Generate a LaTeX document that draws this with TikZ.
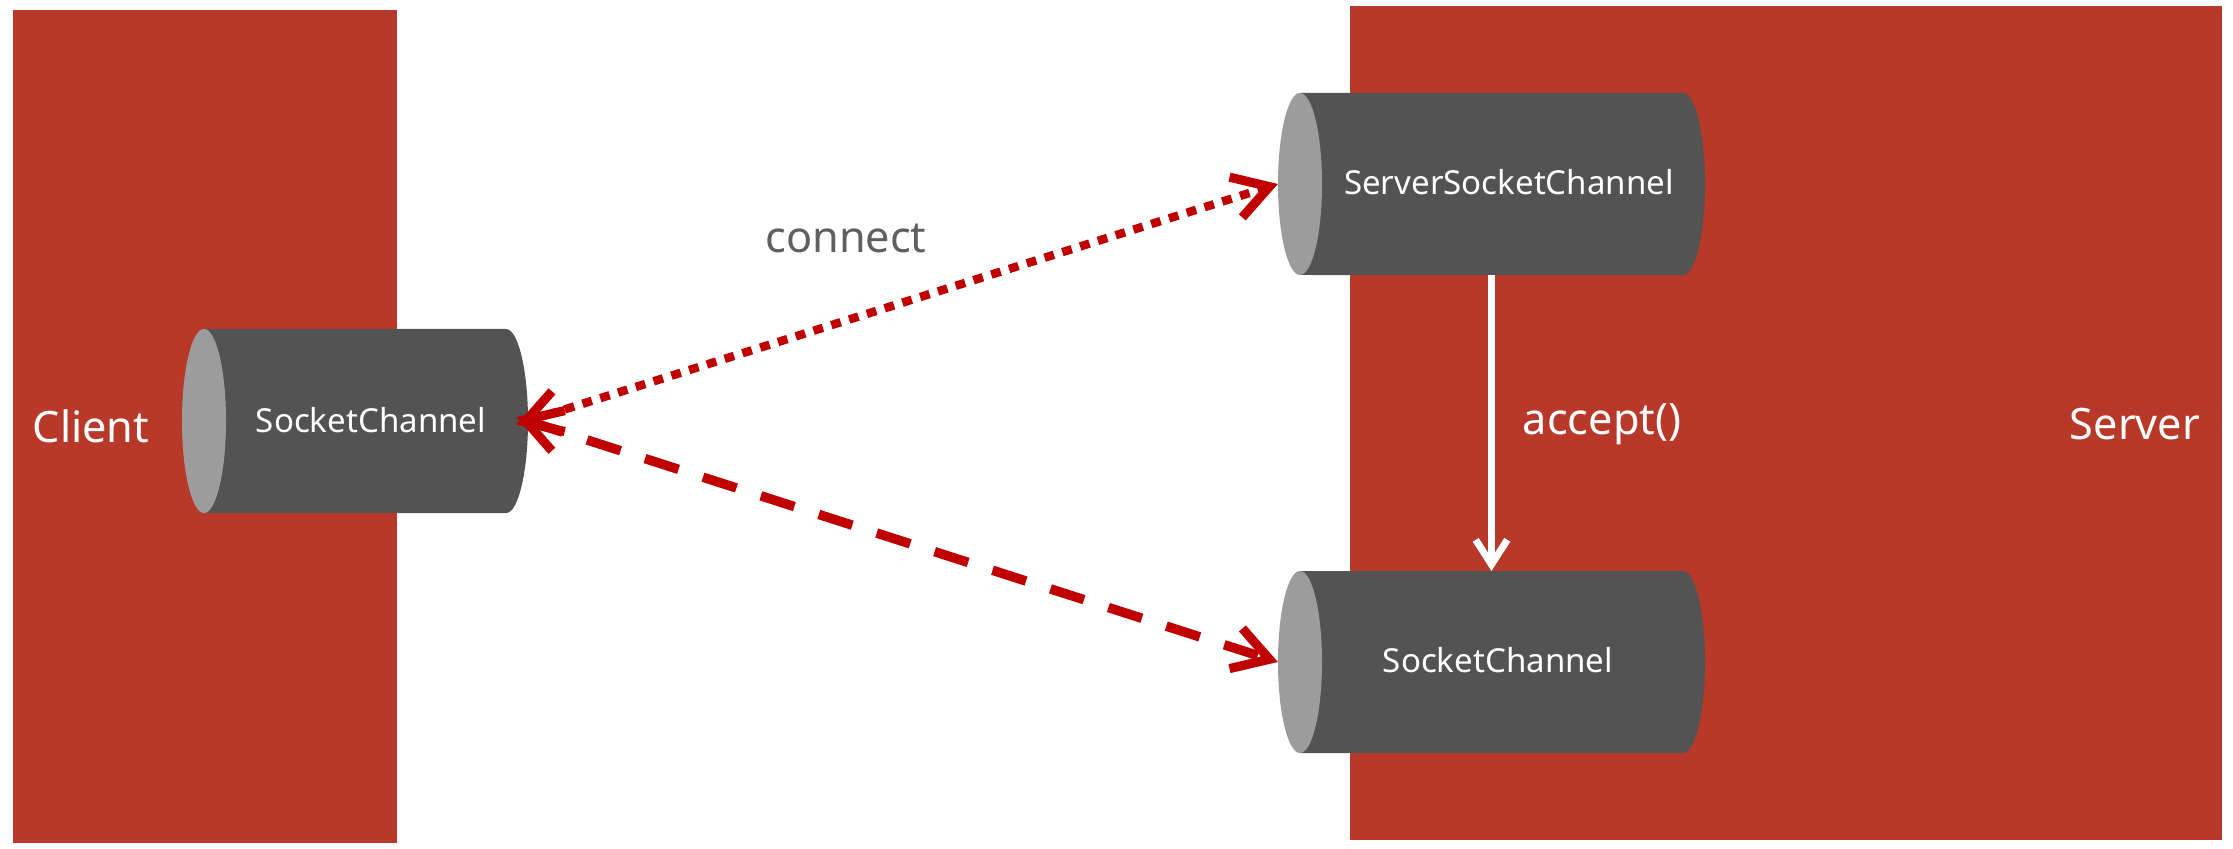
\documentclass[tikz,border=0pt]{standalone}
\usepackage{fontspec}
\setmainfont{Noto Sans}
\usetikzlibrary{arrows.meta}
\definecolor{bgred}{HTML}{B8392A}
\definecolor{cylbody}{HTML}{535353}
\definecolor{cylface}{HTML}{9C9C9C}
\definecolor{arrred}{HTML}{C00000}
\definecolor{txtgray}{HTML}{5F5F5F}
\begin{document}
\begin{tikzpicture}[x=0.01cm,y=0.01cm,
  panel/.style={fill=bgred, draw=none},
  cylbox/.style={draw=none, fill=none, inner sep=0pt, outer sep=0pt},
  cyltext/.style={text=white, font=\fontsize{9.4}{11}\selectfont, anchor=base, inner sep=0pt},
  biglabel/.style={font=\fontsize{12.3}{14}\selectfont, anchor=base, inner sep=0pt},
  link/.style={draw=arrred, line width=2.4pt,
    {Straight Barb[length=10pt,width=12pt,line width=2.6pt]}-{Straight Barb[length=10pt,width=12pt,line width=2.6pt]}},
  dotlink/.style={link, dash pattern=on 2.8pt off 2.5pt},
  dashlink/.style={link, line width=2.7pt, dash pattern=on 10pt off 7.3pt},
  acceptarrow/.style={draw=white, line width=2pt, -{Straight Barb[length=7pt,width=9pt,line width=2pt]}}
]
\useasboundingbox (0,0) rectangle (2233,848);
\fill[white] (0,0) rectangle (2233,848);

% panels
\fill[panel] (13,5) rectangle (397,838);
\fill[panel] (1350,8) rectangle (2222,842);

% client cylinder
\fill[cylbody] (204,519) -- (506,519) arc[start angle=90,end angle=-90,x radius=0.22cm,y radius=0.92cm] -- (204,335) -- cycle;
\fill[cylface] (204,427) ellipse[x radius=0.22cm,y radius=0.92cm];
\node[cylbox, minimum width=3.46cm, minimum height=1.84cm] (cli) at (355,427) {};

% server socket channel cylinder
\fill[cylbody] (1300,755) -- (1683,755) arc[start angle=90,end angle=-90,x radius=0.22cm,y radius=0.91cm] -- (1300,573) -- cycle;
\fill[cylface] (1300,664) ellipse[x radius=0.22cm,y radius=0.91cm];
\node[cylbox, minimum width=4.27cm, minimum height=1.82cm] (ssc) at (1491.5,664) {};

% accepted socket channel cylinder
\fill[cylbody] (1300,277) -- (1683,277) arc[start angle=90,end angle=-90,x radius=0.22cm,y radius=0.91cm] -- (1300,95) -- cycle;
\fill[cylface] (1300,186) ellipse[x radius=0.22cm,y radius=0.91cm];
\node[cylbox, minimum width=4.27cm, minimum height=1.82cm] (sc2) at (1491.5,186) {};

% texts
\node[cyltext] (clit) at (371,415) {SocketChannel};
\node[cyltext] (ssct) at (1509,653) {ServerSocketChannel};
\node[cyltext] (sc2t) at (1498,176) {SocketChannel};
\node[biglabel, text=white] (client) at (91,406) {Client};
\node[biglabel, text=white] (server) at (2135,408) {Server};
\node[biglabel, text=white] (accept) at (1602,413) {accept()};
\node[biglabel, text=txtgray] (connect) at (846,595) {connect};

% connectors
\draw[dotlink, shorten <=-3.5pt] (cli.east) -- (ssc.west);
\draw[dashlink, shorten <=-3.5pt] (cli.east) -- (sc2.west);
\draw[acceptarrow] (ssc.south) -- (sc2.north);
\end{tikzpicture}
\end{document}
